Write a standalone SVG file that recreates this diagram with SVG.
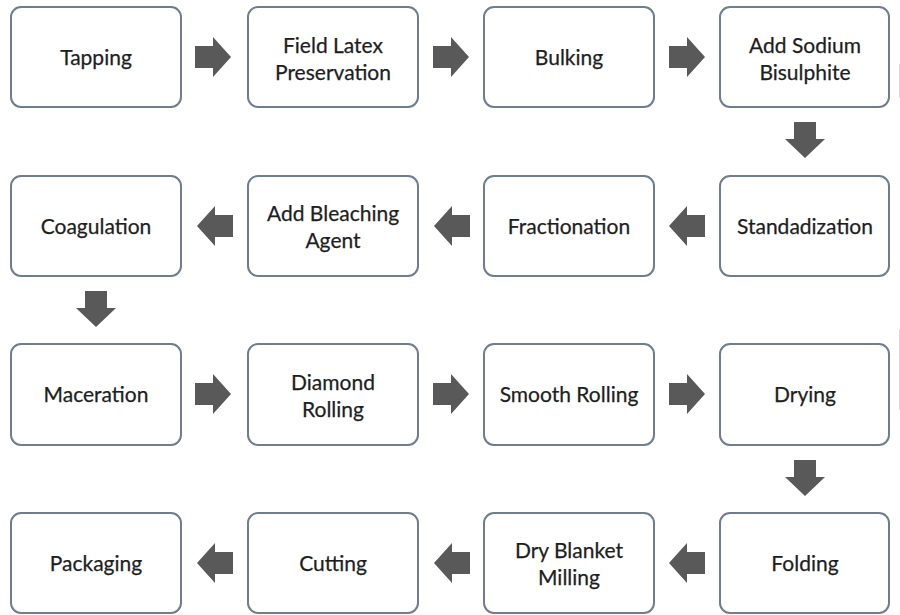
<svg xmlns="http://www.w3.org/2000/svg" width="900" height="615" viewBox="0 0 900 615">
<style>
.box{fill:#ffffff;stroke:#6f7d8f;stroke-width:2}
.lbl{font-family:Lato,"Open Sans","Liberation Sans",sans-serif;font-size:21px;fill:#1e1e1e;stroke:#1e1e1e;stroke-width:0.25;text-anchor:middle;dominant-baseline:central}
.arr{fill:#595959}
</style>
<defs>
<path id="ar" d="M0,-11 H18 V-20 L36,0 L18,20 V11 H0 Z"/>
<path id="al" d="M0,-11 H-18 V-20 L-36,0 L-18,20 V11 H0 Z"/>
<path id="ad" d="M-11,0 V17 H-20 L0,36 L20,17 H11 V0 Z"/>
</defs>
<rect width="900" height="615" fill="#ffffff"/>
<line x1="899.5" y1="64" x2="899.5" y2="98" stroke="#d6d6d6" stroke-width="1"/>
<line x1="899.5" y1="330" x2="899.5" y2="410" stroke="#d6d6d6" stroke-width="1"/>

<g id="n1"><rect class="box" x="11" y="7" width="170" height="100" rx="10"/><text class="lbl" x="96" y="56">Tapping</text></g>
<g id="n2"><rect class="box" x="248" y="7" width="170" height="100" rx="10"/><text class="lbl" x="333" y="44">Field Latex</text><text class="lbl" x="333" y="71">Preservation</text></g>
<g id="n3"><rect class="box" x="484" y="7" width="170" height="100" rx="10"/><text class="lbl" x="569" y="56">Bulking</text></g>
<g id="n4"><rect class="box" x="720" y="7" width="169" height="100" rx="10"/><text class="lbl" x="805" y="44">Add Sodium</text><text class="lbl" x="805" y="71">Bisulphite</text></g>

<g id="n5"><rect class="box" x="720" y="176" width="169" height="100" rx="10"/><text class="lbl" x="805" y="225">Standadization</text></g>
<g id="n6"><rect class="box" x="484" y="176" width="170" height="100" rx="10"/><text class="lbl" x="569" y="225">Fractionation</text></g>
<g id="n7"><rect class="box" x="248" y="176" width="170" height="100" rx="10"/><text class="lbl" x="333" y="212">Add Bleaching</text><text class="lbl" x="333" y="239">Agent</text></g>
<g id="n8"><rect class="box" x="11" y="176" width="170" height="100" rx="10"/><text class="lbl" x="96" y="225">Coagulation</text></g>

<g id="n9"><rect class="box" x="11" y="344" width="170" height="101" rx="10"/><text class="lbl" x="96" y="393">Maceration</text></g>
<g id="n10"><rect class="box" x="248" y="344" width="170" height="101" rx="10"/><text class="lbl" x="333" y="381">Diamond</text><text class="lbl" x="333" y="408">Rolling</text></g>
<g id="n11"><rect class="box" x="484" y="344" width="170" height="101" rx="10"/><text class="lbl" x="569" y="393">Smooth Rolling</text></g>
<g id="n12"><rect class="box" x="720" y="344" width="169" height="101" rx="10"/><text class="lbl" x="805" y="393">Drying</text></g>

<g id="n13"><rect class="box" x="720" y="513" width="169" height="100" rx="10"/><text class="lbl" x="805" y="562">Folding</text></g>
<g id="n14"><rect class="box" x="484" y="513" width="170" height="100" rx="10"/><text class="lbl" x="569" y="549">Dry Blanket</text><text class="lbl" x="569" y="576">Milling</text></g>
<g id="n15"><rect class="box" x="248" y="513" width="170" height="100" rx="10"/><text class="lbl" x="333" y="562">Cutting</text></g>
<g id="n16"><rect class="box" x="11" y="513" width="170" height="100" rx="10"/><text class="lbl" x="96" y="562">Packaging</text></g>

<g id="connectors" class="arr">
<use href="#ar" x="195" y="57"/>
<use href="#ar" x="433" y="57"/>
<use href="#ar" x="669" y="57"/>
<use href="#ad" x="805" y="122"/>
<use href="#al" x="705" y="226"/>
<use href="#al" x="470" y="226"/>
<use href="#al" x="233" y="226"/>
<use href="#ad" x="96" y="291"/>
<use href="#ar" x="195" y="394"/>
<use href="#ar" x="433" y="394"/>
<use href="#ar" x="669" y="394"/>
<use href="#ad" x="805" y="460"/>
<use href="#al" x="705" y="563"/>
<use href="#al" x="470" y="563"/>
<use href="#al" x="233" y="563"/>
</g>
</svg>
